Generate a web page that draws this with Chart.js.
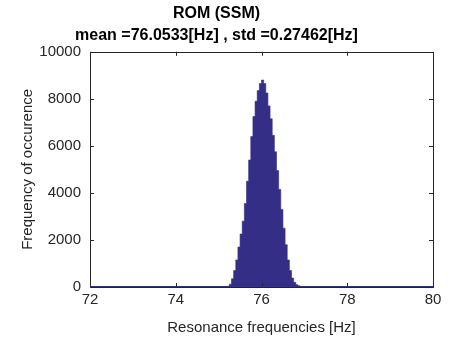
<!DOCTYPE html>
<html>
<head>
<meta charset="utf-8">
<style>
  html, body { margin: 0; padding: 0; background: #fff; }
</style>
</head>
<body>
<canvas id="histChart" width="454" height="341"></canvas>

<script src="https://cdn.jsdelivr.net/npm/chart.js"></script>

<script>
    // histogram bins (left edge of each 0.05 Hz bin) and counts
    const binEdges = [
        75.20, 75.25, 75.30, 75.35, 75.40, 75.45, 75.50, 75.55, 75.60, 75.65,
        75.70, 75.75, 75.80, 75.85, 75.90, 75.95, 76.00, 76.05, 76.10, 76.15,
        76.20, 76.25, 76.30, 76.35, 76.40, 76.45, 76.50, 76.55, 76.60, 76.65,
        76.70, 76.75, 76.80, 76.85, 76.90, 76.95, 77.00
    ];
    const counts = [
        30, 120, 350, 700, 1150, 1700, 2250, 2800, 3550, 4500,
        5400, 6400, 7250, 7900, 8350, 8650, 8800, 8650, 8250, 7700,
        7150, 6450, 5750, 4950, 4150, 3300, 2500, 1800, 1150, 700,
        380, 200, 100, 50, 20, 5
    ];
    const xTicks = [72, 74, 76, 78, 80];
    const yTicks = [0, 2000, 4000, 6000, 8000, 10000];

    const titleLines = ['ROM (SSM)', 'mean =76.0533[Hz] , std =0.27462[Hz]'];
    const axisColor = '#262626';
    const barColor = '#342e87';

    // step outline: each bin drawn flat from its left edge to the next edge
    const histPoints = binEdges.map((e, i) => ({ x: e, y: i < counts.length ? counts[i] : 0 }));

    // matlab style box with inward ticks
    const boxTicks = {
        id: 'boxTicks',
        afterDraw(chart) {
            const { ctx, chartArea: a, scales } = chart;
            ctx.save();
            ctx.strokeStyle = axisColor;
            ctx.lineWidth = 1;
            ctx.beginPath();
            const len = 4;
            xTicks.forEach(v => {
                const x = Math.round(scales.x.getPixelForValue(v)) + 0.5;
                ctx.moveTo(x, a.bottom); ctx.lineTo(x, a.bottom - len);
                ctx.moveTo(x, a.top); ctx.lineTo(x, a.top + len);
            });
            yTicks.forEach(v => {
                const y = Math.round(scales.y.getPixelForValue(v)) + 0.5;
                ctx.moveTo(a.left, y); ctx.lineTo(a.left + len, y);
                ctx.moveTo(a.right, y); ctx.lineTo(a.right - len, y);
            });
            ctx.stroke();
            ctx.strokeRect(Math.round(a.left) + 0.5, Math.round(a.top) + 0.5,
                Math.round(a.right - a.left), Math.round(a.bottom - a.top));
            // zero-count bins show as a line along the base
            ctx.strokeStyle = barColor;
            ctx.beginPath();
            ctx.moveTo(a.left, Math.round(a.bottom) - 0.5);
            ctx.lineTo(a.right, Math.round(a.bottom) - 0.5);
            ctx.stroke();
            ctx.restore();
        }
    };

    const ctx = document.getElementById('histChart').getContext('2d');
    const histChart = new Chart(ctx, {
        type: 'line',
        data: {
            datasets: [{
                label: 'ROM (SSM)',
                data: histPoints,
                stepped: 'before',
                fill: 'origin',
                backgroundColor: barColor,
                borderColor: barColor,
                borderWidth: 0.6,
                pointRadius: 0
            }]
        },
        options: {
            responsive: false,
            animation: false,
            layout: { padding: { top: 2, right: 21, left: 0, bottom: 0 } },
            plugins: {
                legend: { display: false },
                tooltip: { enabled: false },
                title: {
                    display: true,
                    text: titleLines,
                    color: '#000',
                    font: { family: 'Liberation Sans', size: 16, weight: 'bold', lineHeight: 1.4 },
                    padding: { top: 0, bottom: 5 }
                }
            },
            scales: {
                x: {
                    type: 'linear',
                    min: 72, max: 80,
                    afterBuildTicks: s => { s.ticks = xTicks.map(v => ({ value: v })); },
                    afterFit: s => { s.height = 54; },
                    grid: { display: false, drawTicks: false },
                    border: { display: false },
                    ticks: { color: axisColor, padding: 4, maxRotation: 0,
                        callback: v => String(v),
                        font: { family: 'Liberation Sans', size: 15 } },
                    title: { display: true, text: 'Resonance frequencies [Hz]', color: axisColor,
                        font: { family: 'Liberation Sans', size: 15 }, padding: { top: 2, bottom: 4 } }
                },
                y: {
                    min: 0, max: 10000,
                    afterBuildTicks: s => { s.ticks = yTicks.map(v => ({ value: v })); },
                    afterFit: s => { s.width = 90; },
                    grid: { display: false, drawTicks: false },
                    border: { display: false },
                    ticks: { color: axisColor, padding: 9,
                        callback: v => String(v),
                        font: { family: 'Liberation Sans', size: 15 } },
                    title: { display: true, text: 'Frequency of occurence', color: axisColor,
                        font: { family: 'Liberation Sans', size: 15 }, padding: { top: 19, bottom: 0 } }
                }
            }
        },
        plugins: [boxTicks]
    });
</script>
</body>
</html>
